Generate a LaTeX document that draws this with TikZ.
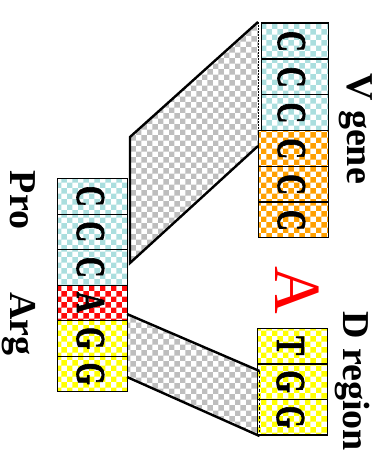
\documentclass[tikz,border=0pt]{standalone}
\usepackage{fontspec}
\setmainfont{Liberation Serif}
\newfontfamily\heavy{Liberation Serif}[BoldFeatures={FakeBold=2}]
\usetikzlibrary{patterns}
\definecolor{cblue}{RGB}{170,222,222}
\definecolor{corange}{RGB}{255,160,0}
\definecolor{cred}{RGB}{255,10,10}
\definecolor{cyellow}{RGB}{255,255,0}
\definecolor{cgray}{RGB}{190,190,190}
\tikzset{
  cell/.style={draw=black, line width=1.3pt, preaction={fill=white}, pattern=checkerboard,
    minimum width=68pt, minimum height=35.6pt, inner sep=0pt, anchor=north west},
  bluecell/.style={cell, pattern color=cblue},
  orangecell/.style={cell, pattern color=corange},
  redcell/.style={cell, pattern color=cred},
  yellowcell/.style={cell, pattern color=cyellow},
  glyph/.style={rotate=-90, anchor=base, inner sep=0pt, font=\fontsize{41}{41}\selectfont\heavy\bfseries},
  lbl/.style={rotate=-90, anchor=base, inner sep=0pt, font=\fontsize{38}{40}\selectfont\bfseries},
  band/.style={preaction={fill=white}, pattern=checkerboard, pattern color=cgray},
  bandedge/.style={line width=2.4pt, line join=miter},
}
\newcommand{\sq}[1]{\scalebox{0.7}[1]{#1}}
\begin{document}
\begin{tikzpicture}[x=1pt, y=-1pt]
\useasboundingbox (0,0) rectangle (386,460);
% band corners
\coordinate (p1) at (130,137);
\coordinate (p2) at (258,22);
\coordinate (p3) at (258,146);
\coordinate (p4) at (130,263);
\coordinate (q1) at (127,314);
\coordinate (q2) at (259.5,371);
\coordinate (q3) at (259.5,436);
\coordinate (q4) at (127,377);
\fill[band] (p1) -- (p2) -- (p3) -- (p4) -- cycle;
\fill[band] (q1) -- (q2) -- (q3) -- (q4) -- cycle;
% V gene column
\node[bluecell, minimum width=67pt] (v1) at (261,22.5) {};
\node[bluecell, minimum width=67pt] (v2) at (261,58.3) {};
\node[bluecell, minimum width=67pt] (v3) at (261,94.1) {};
\node[orangecell, minimum width=70pt] (v4) at (258,129.9) {};
\node[orangecell, minimum width=70pt] (v5) at (258,165.7) {};
\node[orangecell, minimum width=70pt] (v6) at (258,201.5) {};
\node[glyph] (c1) at (278,41.4) {\sq{C}};
\node[glyph] (c2) at (278,77.2) {\sq{C}};
\node[glyph] (c3) at (278,113) {\sq{C}};
\node[glyph] (c4) at (278,148.8) {\sq{C}};
\node[glyph] (c5) at (278,184.6) {\sq{C}};
\node[glyph] (c6) at (278,220.4) {\sq{C}};
% left column
\node[bluecell, minimum width=70pt] (l1) at (57,178) {};
\node[bluecell, minimum width=70pt] (l2) at (57,213.5) {};
\node[bluecell, minimum width=70pt] (l3) at (57,249) {};
\node[redcell, minimum width=70pt] (l4) at (57,284.5) {};
\node[yellowcell, minimum width=70pt] (l5) at (57,320) {};
\node[yellowcell, minimum width=70pt] (l6) at (57,355.5) {};
\node[glyph] (d1) at (77,196.3) {\sq{C}};
\node[glyph] (d2) at (77,231.8) {\sq{C}};
\node[glyph] (d3) at (77,267.3) {\sq{C}};
\node[glyph] (d4) at (77,302.3) {\sq{A}};
\node[glyph] (d5) at (77,338.3) {\sq{G}};
\node[glyph] (d6) at (77,373.8) {\sq{G}};
% D region column
\node[yellowcell, minimum width=70pt, minimum height=35.4pt] (r1) at (257,328) {};
\node[yellowcell, minimum width=70pt, minimum height=35.4pt] (r2) at (257,363.4) {};
\node[yellowcell, minimum width=70pt, minimum height=35.4pt] (r3) at (257,398.8) {};
\node[glyph] (t1) at (277,345.7) {\sq{T}};
\node[glyph] (t2) at (277,381.6) {\sq{G}};
\node[glyph] (t3) at (277,417) {\sq{G}};
% band outlines
\draw[bandedge] (p2) -- (p1) -- (p4) -- (p3);
\draw[line width=0.8pt, dash pattern=on 2pt off 1pt] (p2) -- (p3);
\draw[bandedge] (q1) -- (q2);
\draw[bandedge] (q4) -- (q3);
\draw[line width=1.8pt, dash pattern=on 2.5pt off 2pt] (q2) -- (q3);
% labels
\node[lbl] (vg) at (347,128.5) {V gene};
\node[lbl] (dr) at (343,381) {D region};
\node[lbl] (pro) at (10,200) {Pro};
\node[lbl] (arg) at (10,324) {Arg};
\node[rotate=-90, anchor=base, inner sep=0pt, text=red, font=\fontsize{66}{66}\selectfont] (ins) at (275,290.5) {A};
\end{tikzpicture}
\end{document}
